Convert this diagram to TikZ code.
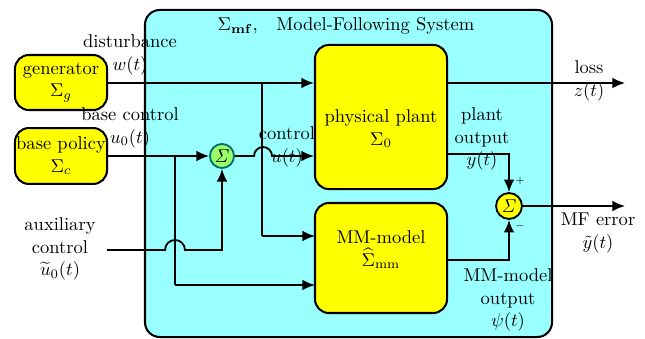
\documentclass[tikz,border=0pt]{standalone}
\usetikzlibrary{arrows.meta}
\definecolor{mfcyan}{RGB}{153,255,255}
\definecolor{sumgreen}{RGB}{153,255,102}
\definecolor{sumedge}{RGB}{0,110,110}
\definecolor{blkyellow}{RGB}{255,255,0}
\begin{document}
\begin{tikzpicture}[x=0.54pt,y=-0.54pt,
  blk/.style={draw=black,line width=1.1pt,fill=blkyellow,rounded corners=7.5pt,inner sep=0pt},
  sumnode/.style={circle,draw=black,line width=1pt,fill=blkyellow,inner sep=0pt,minimum size=14pt},
  conn/.style={line width=1pt},
  arr/.style={conn,-{Latex[length=6.8pt,width=5.8pt]}},
  lbl/.style={align=center,inner sep=0pt}]
\useasboundingbox (0,0) rectangle (645,339);
% outer system box
\node[draw=black,line width=1.1pt,fill=mfcyan,rounded corners=8pt,minimum width=219.8pt,minimum height=176.6pt,inner sep=0pt] (sys) at (348.5,173.5) {};
\node[lbl] (title) at (346,26) {$\Sigma_{\mathbf{mf}}$,\quad Model-Following System};
% blocks
\node[blk,minimum width=49.7pt,minimum height=29.7pt,align=center] (gen) at (61,82.5) {generator\\$\Sigma_g$};
\node[blk,minimum width=49.7pt,minimum height=30.2pt,align=center] (pol) at (61,156) {base policy\\$\Sigma_c$};
\node[blk,minimum width=71.3pt,minimum height=77.8pt] (plant) at (381,117) {};
\node[lbl] (planttxt) at (381,129) {physical plant\\$\Sigma_0$};
\node[blk,minimum width=71.3pt,minimum height=59.4pt] (mm) at (381,258) {};
\node[lbl] (mmtxt) at (381,250) {MM-model\\$\widehat{\Sigma}_{\mathrm{mm}}$};
\node[sumnode,fill=sumgreen,draw=sumedge,minimum size=13pt] (s1) at (222,156) {$\mathit{\Sigma}$};
\node[sumnode] (s2) at (509,206) {$\mathit{\Sigma}$};
% coordinates
\coordinate (j1) at (262,83);
\coordinate (j2) at (175,156);
\coordinate (auxstart) at (107,250);
\coordinate (auxcorner) at (222,250);
\coordinate (pcorner) at (509,154);
\coordinate (mcorner) at (509,260);
\coordinate (lossend) at (625,83);
\coordinate (errend) at (625,206);
\coordinate (m1) at (315,236);
\coordinate (m2) at (315,285);
\coordinate (hop1) at (254,156);
\coordinate (hop2) at (165,250);
% connectors
\draw[arr] (gen.east |- j1) -- (plant.west |- j1);
\draw[conn] (j1) -- (j1 |- m1);
\draw[arr] (j1 |- m1) -- (m1);
\draw[arr] (pol.east |- s1) -- (s1.west);
\draw[conn] (j2) -- (j2 |- m2);
\draw[arr] (j2 |- m2) -- (m2);
\draw[arr] (s1.east) -- (hop1) arc[start angle=180,end angle=0,radius=4.86pt] -- (plant.west |- s1);
\draw[arr] (auxstart) -- (hop2) arc[start angle=180,end angle=0,radius=5.4pt] -- (auxcorner) -- (s1.south);
\draw[arr] (plant.east |- pcorner) -- (pcorner) -- (s2.north);
\draw[arr] (mm.east |- mcorner) -- (mcorner) -- (s2.south);
\draw[arr] (plant.east |- lossend) -- (lossend);
\draw[arr] (s2.east) -- (errend);
% labels
\node[lbl] (ldist) at (130,55) {disturbance\\$w(t)$};
\node[lbl] (lbase) at (130,128) {base control\\$u_0(t)$};
\node[lbl] (lctrl) at (287,147) {control\\$u(t)$};
\node[lbl] (laux) at (60,249) {auxiliary\\control\\$\widetilde{u}_0(t)$};
\node[lbl] (lpout) at (482,139) {plant\\output\\$y(t)$};
\node[lbl] (lmout) at (508,300) {MM-model\\output\\$\psi(t)$};
\node[lbl] (lloss) at (589,81) {loss\\$z(t)$};
\node[lbl] (lerr) at (598,233) {MF error\\$\tilde{y}(t)$};
\node[inner sep=0pt,font=\tiny] (lplus) at (520,181) {$+$};
\node[inner sep=0pt,font=\tiny] (lminus) at (520,226) {$-$};
\end{tikzpicture}
\end{document}
